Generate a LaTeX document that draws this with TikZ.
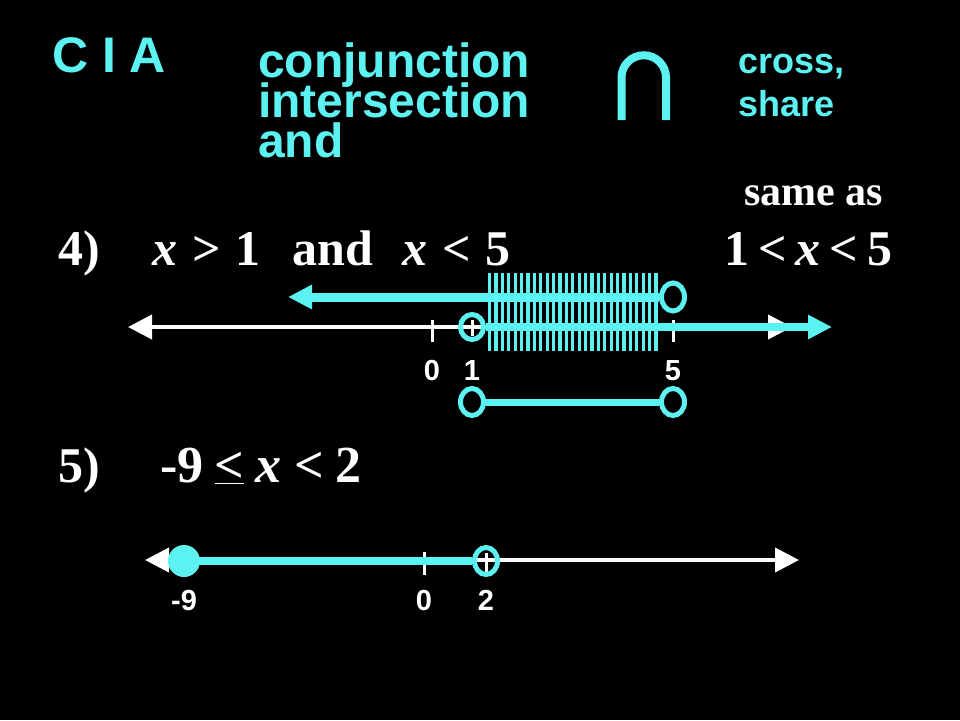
\documentclass[tikz,border=0pt]{standalone}
\usepackage{fontspec}
\setmainfont{Liberation Serif}
\setsansfont{Liberation Sans}
\usetikzlibrary{arrows.meta,shapes.geometric}
\definecolor{cy}{RGB}{92,242,242}
\begin{document}
\begin{tikzpicture}[x=1pt,y=-1pt,
  sanstxt/.style={inner sep=0pt, anchor=base west, font=\sffamily\bfseries, text=cy},
  sertxt/.style={inner sep=0pt, anchor=base west, text=white, font=\bfseries\fontsize{50}{50}\selectfont},
  numlab/.style={inner sep=0pt, anchor=base, text=white, font=\sffamily\bfseries\fontsize{29}{29}\selectfont},
  wline/.style={draw=white, line width=4pt, {Triangle[length=24pt,width=24pt]}-{Triangle[length=24pt,width=24pt]}},
  tickmark/.style={draw=white, line width=3pt},
  ray/.style={draw=cy, line width=8.5pt},
  ocirc/.style={draw=cy, line width=5pt, ellipse, minimum width=23pt, minimum height=25pt, inner sep=0pt},
  hatchline/.style={draw=cy, line width=3.2pt}]
\useasboundingbox (0,0) rectangle (960,720);
\fill[black] (0,0) rectangle (960,720);

% header
\node[sanstxt, font=\sffamily\bfseries\fontsize{50}{50}\selectfont] (cia) at (52,72) {C I A};
\node[sanstxt, text depth=0pt, font=\sffamily\bfseries\fontsize{48}{48}\selectfont] (conj) at (258,77) {conjunction};
\node[sanstxt, text depth=0pt, text height=33pt, font=\sffamily\bfseries\fontsize{48}{48}\selectfont] (inter) at (258,117) {intersection};
\node[sanstxt, text depth=0pt, text height=33pt, font=\sffamily\bfseries\fontsize{48}{48}\selectfont] (andw) at (258,157) {and};
\node[sanstxt, font=\sffamily\bfseries\fontsize{36}{36}\selectfont] (cross) at (738,73) {cross,};
\node[sanstxt, font=\sffamily\bfseries\fontsize{36}{36}\selectfont] (share) at (738,116) {share};
\draw[cy, line width=8pt] (621.5,120) -- (621.5,77.5) arc[start angle=180, end angle=0, radius=22.25pt] -- (666,120);
\node[sertxt, font=\bfseries\fontsize{42}{42}\selectfont] (same) at (744,205) {same as};

% problem 4 text
\node[sertxt] (p4) at (58,265) {4)};
\node[sertxt] (t4a) at (152,265) {\textit{x}\hspace{15pt}>\hspace{15pt}1};
\node[sertxt] (t4b) at (292,265) {and};
\node[sertxt] (t4c) at (402,265) {\textit{x}\hspace{15pt}<\hspace{15pt}5};
\node[sertxt] (t4d) at (724,265) {1\hspace{9pt}<\hspace{9pt}\textit{x}\hspace{9pt}<\hspace{9pt}5};

% number line 4
\coordinate (l4a) at (128,327);
\coordinate (l4b) at (792,327);
\draw[wline] (l4a) -- (l4b);
\draw[tickmark] (432,320) -- (432,342);
\draw[tickmark] (472,320) -- (472,336);
\draw[tickmark] (673,320) -- (673,342);
\node[ocirc] (c41) at (472,327) {};
\coordinate (r4end) at (832,327);
\draw[ray, -{Triangle[length=24pt,width=23pt]}] (c41.east) -- (r4end);
\node[ocirc, minimum height=28pt] (c45) at (673,297) {};
\coordinate (u4end) at (288,297);
\draw[ray, line width=9pt, -{Triangle[length=24pt,width=23pt]}] (c45.west) -- (u4end);
\foreach \i in {0,...,26} \draw[hatchline] ({489.5+\i*6.4},273) -- ({489.5+\i*6.4},351);
\node[numlab] (n40) at (432,380) {0};
\node[numlab] (n41) at (472,380) {1};
\node[numlab] (n45) at (673,380) {5};
\node[ocirc, minimum height=27pt] (b41) at (472,402) {};
\node[ocirc, minimum height=27pt] (b45) at (673,402) {};
\draw[draw=cy, line width=7pt] (b41.east) -- (b45.west);

% problem 5 text
\node[sertxt] (p5) at (58,482) {5)};
\node[sertxt, font=\bfseries\fontsize{52}{52}\selectfont] (t5) at (160,482) {-9\hspace{11pt}\underline{<}\hspace{11pt}\textit{x}\hspace{13pt}<\hspace{12pt}2};

% number line 5
\coordinate (l5a) at (145,560);
\coordinate (l5b) at (799,560);
\draw[wline] (l5a) -- (l5b);
\draw[tickmark] (424,552) -- (424,575);
\draw[tickmark] (486,553) -- (486,573);
\node[circle, fill=cy, minimum size=32pt, inner sep=0pt] (d5) at (184,561) {};
\node[ocirc, minimum height=27pt] (c52) at (486,561) {};
\draw[ray, line width=8pt] (d5.center) -- (c52.west);
\node[numlab] (n59) at (184,610) {-9};
\node[numlab] (n50) at (424,610) {0};
\node[numlab] (n52) at (486,610) {2};
\end{tikzpicture}
\end{document}
